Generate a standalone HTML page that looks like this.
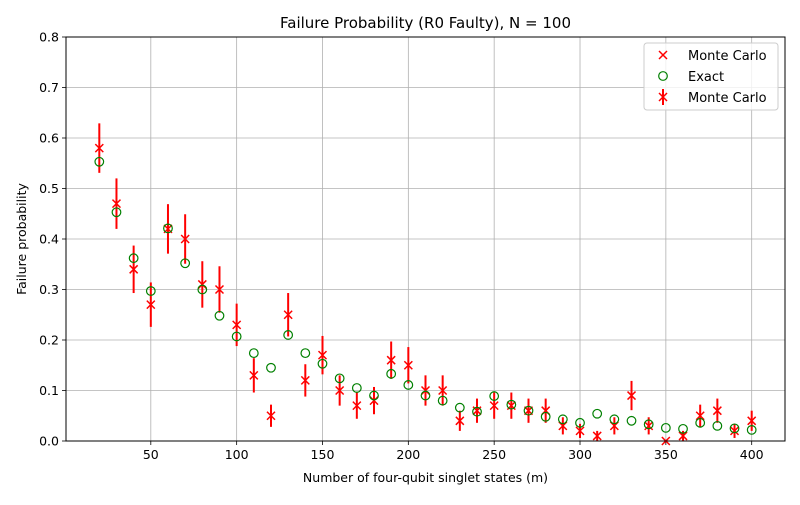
<!DOCTYPE html>
<html><head><meta charset="utf-8"><style>
body{margin:0;background:#fff;}
svg{font-family:"DejaVu Sans","Liberation Sans",sans-serif;}
</style></head><body>
<svg id="c" width="800" height="500"></svg>
<script>
const mVals=[20,30,40,50,60,70,80,90,100,110,120,130,140,150,160,170,180,190,200,210,220,230,240,250,260,270,280,290,300,310,320,330,340,350,360,370,380,390,400];
const mcVals=[0.58,0.47,0.34,0.27,0.42,0.40,0.31,0.30,0.23,0.13,0.05,0.25,0.12,0.17,0.10,0.07,0.08,0.16,0.15,0.10,0.10,0.04,0.06,0.07,0.07,0.06,0.06,0.03,0.02,0.01,0.03,0.09,0.03,0.00,0.01,0.05,0.06,0.02,0.04];
const mcErr=[0.049,0.05,0.047,0.044,0.049,0.049,0.046,0.046,0.042,0.034,0.022,0.043,0.032,0.038,0.03,0.026,0.027,0.037,0.036,0.03,0.03,0.02,0.024,0.026,0.026,0.024,0.024,0.017,0.014,0.01,0.017,0.029,0.017,0.0,0.01,0.022,0.024,0.014,0.02];
const exVals=[0.553,0.453,0.362,0.297,0.421,0.352,0.300,0.248,0.207,0.174,0.145,0.210,0.174,0.153,0.124,0.105,0.090,0.133,0.111,0.090,0.080,0.066,0.058,0.089,0.072,0.060,0.048,0.043,0.036,0.054,0.043,0.040,0.033,0.026,0.024,0.036,0.030,0.025,0.022];
const xTicks=[50,100,150,200,250,300,350,400];
const yTicks=[0,0.1,0.2,0.3,0.4,0.5,0.6,0.7,0.8];

const L=66,R=785,T=37,B=441,x0=0.6,x1=419.4;
const X=v=>L+(v-x0)/(x1-x0)*(R-L);
const Y=v=>B-v/0.8*(B-T);
const svg=document.getElementById('c');
const NS='http://www.w3.org/2000/svg';
function mk(t,a,p){const e=document.createElementNS(NS,t);for(const k in a)e.setAttribute(k,a[k]);(p||svg).appendChild(e);return e;}

xTicks.forEach(t=>{
  const g=mk('line',{x1:X(t),x2:X(t),y1:T,y2:B,stroke:'#b0b0b0','stroke-width':0.8});
  
  
  mk('line',{x1:X(t),x2:X(t),y1:B,y2:B+4,stroke:'#000','stroke-width':0.8});
  const tx=mk('text',{x:X(t),y:B+18,'text-anchor':'middle','font-size':12.5});
  tx.textContent=t;
  
  
});
yTicks.forEach(t=>{
  const g=mk('line',{x1:L,x2:R,y1:Y(t),y2:Y(t),stroke:'#b0b0b0','stroke-width':0.8});
  
  
  mk('line',{x1:L-4,x2:L,y1:Y(t),y2:Y(t),stroke:'#000','stroke-width':0.8});
  const tx=mk('text',{x:L-7,y:Y(t)+4.5,'text-anchor':'end','font-size':12.5});
  tx.textContent=t.toFixed(1);
  
  
});

function cross(x,y,s){
  const g=mk('g',{stroke:'#ff0000','stroke-width':1.5});
  mk('line',{x1:x-s,y1:y-s,x2:x+s,y2:y+s},g);mk('line',{x1:x-s,y1:y+s,x2:x+s,y2:y-s},g);return g;
}
mVals.forEach((m,i)=>{
  const eb=mk('line',{x1:X(m),x2:X(m),y1:Y(mcVals[i]-mcErr[i]),y2:Y(mcVals[i]+mcErr[i]),stroke:'#ff0000','stroke-width':2});
  
  
  const c=cross(X(m),Y(mcVals[i]),4);
  
  
  const o=mk('circle',{cx:X(m),cy:Y(exVals[i]),r:4.3,fill:'none',stroke:'#008000','stroke-width':1.2});
  
  
});
mk('rect',{x:L,y:T,width:R-L,height:B-T,fill:'none',stroke:'#000','stroke-width':1});

const ti=mk('text',{x:(L+R)/2,y:28,'text-anchor':'middle','font-size':15});
ti.textContent='Failure Probability (R0 Faulty), N = 100';


const xl=mk('text',{x:(L+R)/2,y:482,'text-anchor':'middle','font-size':12.5});
xl.textContent='Number of four-qubit singlet states (m)';


const yl=mk('text',{x:0,y:0,'text-anchor':'middle','font-size':12.5,transform:`translate(26,${(T+B)/2}) rotate(-90)`});
yl.textContent='Failure probability';



const lg=mk('g',{});


mk('rect',{x:644,y:43,width:134,height:67,rx:3,fill:'#fff','fill-opacity':0.8,stroke:'#ccc'},lg);
const entries=['Monte Carlo','Exact','Monte Carlo'];
entries.forEach((n,i)=>{
  const y=55+i*21;
  if(i===0) lg.appendChild(cross(663,y,4));
  if(i===1) mk('circle',{cx:663,cy:y,r:4.3,fill:'none',stroke:'#008000','stroke-width':1.2},lg);
  if(i===2){mk('line',{x1:663,x2:663,y1:y-8,y2:y+8,stroke:'#ff0000','stroke-width':2},lg);lg.appendChild(cross(663,y,4));}
  const t=mk('text',{x:688,y:y+5,'font-size':13},lg);
  t.textContent=n;
  
  
});
</script>
</body></html>
